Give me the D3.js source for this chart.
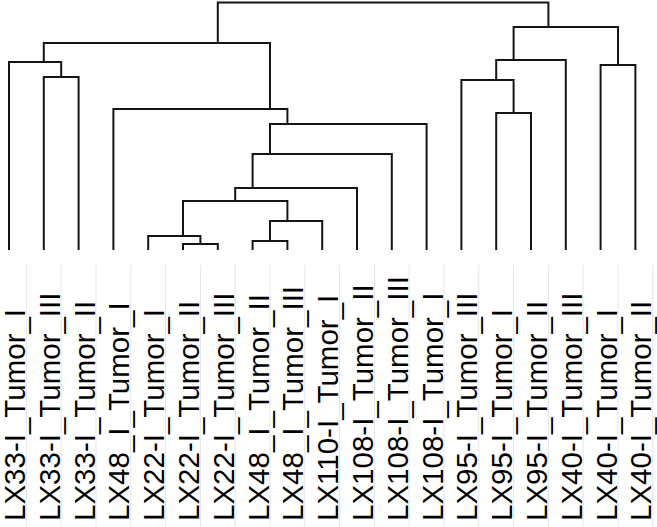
<!DOCTYPE html>
<html>
<head>
<meta charset="utf-8">
<script src="https://cdn.jsdelivr.net/npm/d3@7"></script>
<style>
  html, body { margin: 0; padding: 0; background: #fff; }
  svg { display: block; }
</style>
</head>
<body>
<svg id="chart" width="657" height="527"></svg>
<script>
// leaf order as shown left to right
const leafLabels = [
	"LX33-I_Tumor_I", "LX33-I_Tumor_III", "LX33-I_Tumor_II", "LX48_I_Tumor_I",
	"LX22-I_Tumor_I", "LX22-I_Tumor_II", "LX22-I_Tumor_III", "LX48_I_Tumor_II",
	"LX48_I_Tumor_III", "LX110-I_Tumor_I", "LX108-I_Tumor_II", "LX108-I_Tumor_III",
	"LX108-I_Tumor_I", "LX95-I_Tumor_III", "LX95-I_Tumor_I", "LX95-I_Tumor_II",
	"LX40-I_Tumor_III", "LX40-I_Tumor_I", "LX40-I_Tumor_II"
];

// hclust-style merges: negative = leaf (1-based), positive = earlier merge (1-based)
const merges = [
	[-6, -7], [-8, -9], [-5, 1], [2, -10], [3, 4], [5, -11], [6, -12], [7, -13],
	[-15, -16], [-4, 8], [-14, 9], [-2, -3], [-18, -19], [-1, 12], [11, -17],
	[14, 10], [15, 13], [16, 17]
];
const mergeHeights = [
	0.24, 0.36, 0.57, 1.17, 1.98, 2.51, 3.88, 5.09,
	5.54, 5.70, 6.87, 6.99, 7.47, 7.60, 7.68,
	8.36, 9.01, 10.0
];

function buildNode(id) {
	if (id < 0) return { name: leafLabels[-id - 1], height: 0 };
	const m = merges[id - 1];
	return { height: mergeHeights[id - 1], children: [buildNode(m[0]), buildNode(m[1])] };
}

const root = d3.hierarchy(buildNode(merges.length));

const svg = d3.select("#chart");

const x = d3.scalePoint().domain(leafLabels).range([9, 635.4]);
const y = d3.scaleLinear().domain([0, 10]).range([250, 2.5]);

const nodeX = (n) => d3.mean(n.leaves(), (l) => x(l.data.name));

// label strip separators
const labelOffset = 17.4;
svg.append("g")
	.selectAll("line")
	.data(leafLabels)
	.enter()
	.append("line")
	.attr("x1", (d) => x(d) + labelOffset)
	.attr("x2", (d) => x(d) + labelOffset)
	.attr("y1", 265)
	.attr("y2", 527)
	.attr("stroke", "#e6e6e6")
	.attr("stroke-width", 1);

// branches
svg.append("g")
	.selectAll("path")
	.data(root.descendants().filter((n) => n.children))
	.enter()
	.append("path")
	.attr("fill", "none")
	.attr("stroke", "#141414")
	.attr("stroke-width", 2)
	.attr("stroke-linejoin", "miter")
	.attr("d", (n) => {
		const [a, b] = n.children;
		return "M" + nodeX(a) + "," + y(a.data.height) +
			"V" + y(n.data.height) +
			"H" + nodeX(b) +
			"V" + y(b.data.height);
	});

// labels
svg.append("g")
	.selectAll("text")
	.data(leafLabels)
	.enter()
	.append("text")
	.attr("transform", (d) => `translate(${x(d) + labelOffset - 1.5},521) rotate(-90)`)
	.attr("text-anchor", "start")
	.style("font-family", "'Liberation Sans', Arial, Helvetica, sans-serif")
	.style("font-size", "29.5px")
	.attr("fill", "#000")
	.text((d) => d);
</script>
</body>
</html>
